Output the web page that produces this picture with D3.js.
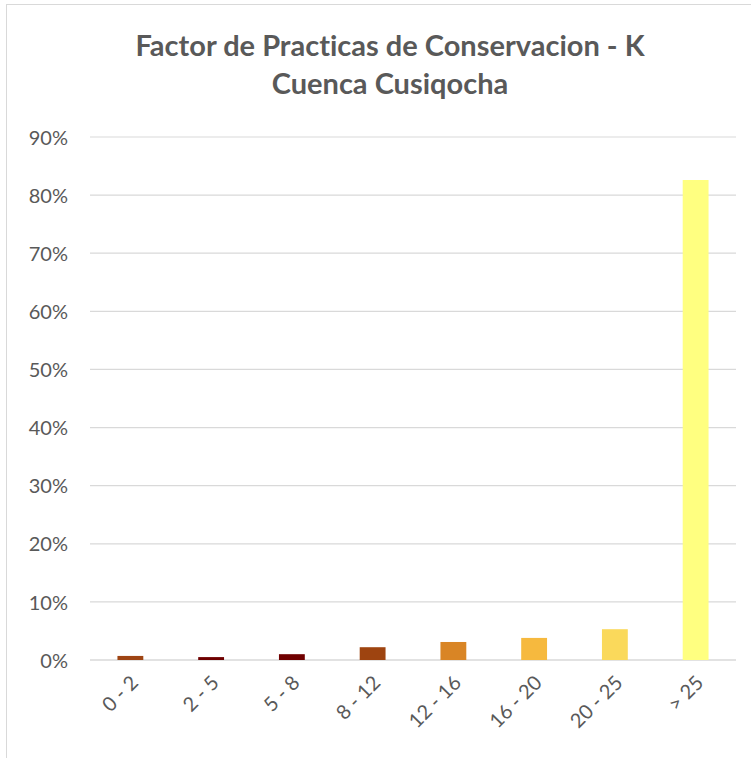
<!DOCTYPE html>
<html><head><meta charset="utf-8">
<script src="https://cdn.jsdelivr.net/npm/d3@7"></script>
<style>body{margin:0;background:#fff;} svg{display:block;} text{font-variant-ligatures:none;font-feature-settings:"liga" 0;}</style>
</head><body>
<script>
const categories = ["0 - 2","2 - 5","5 - 8","8 - 12","12 - 16","16 - 20","20 - 25","> 25"];
const values = [0.007, 0.005, 0.010, 0.022, 0.031, 0.038, 0.053, 0.826];
const colors = ["#9E4413","#6E0000","#700000","#9E4410","#D98525","#F6B93E","#FAD95B","#FFFF80"];
const yTicks = [0,0.1,0.2,0.3,0.4,0.5,0.6,0.7,0.8,0.9];
const titleLines = ["Factor de Practicas de Conservacion - K","Cuenca Cusiqocha"];

const W=751,H=758;
const svg=d3.select("body").append("svg").attr("width",W).attr("height",H);
svg.append("rect").attr("x",6.5).attr("y",4.5).attr("width",W).attr("height",H).attr("fill","#fff").attr("stroke","#D9D9D9").attr("stroke-width",1);

const font="Lato, 'Open Sans', sans-serif";
const x=d3.scaleBand().domain(categories).range([90,736]).paddingInner(0.68).paddingOuter(0.34);
const y=d3.scaleLinear().domain([0,0.9]).range([660,137]);

svg.append("g").selectAll("line").data(yTicks).join("line")
  .attr("x1",90).attr("x2",736).attr("y1",d=>y(d)).attr("y2",d=>y(d))
  .attr("stroke","#D9D9D9").attr("stroke-width",d=>d===0?1.5:1.2);

const yAxis=d3.axisLeft(y).tickValues(yTicks).tickFormat(d3.format(".0%")).tickSize(0).tickPadding(0);
const ga=svg.append("g").attr("transform","translate(68,0)").call(yAxis);
ga.select(".domain").remove();
ga.selectAll("text").attr("font-family",font).attr("font-size",20).attr("fill","#595959").attr("dy","0.36em");

svg.append("g").selectAll("rect").data(categories).join("rect")
  .attr("x",d=>x(d)).attr("width",x.bandwidth())
  .attr("y",(d,i)=>y(values[i])).attr("height",(d,i)=>y(0)-y(values[i]))
  .attr("fill",(d,i)=>colors[i]);

const xAxis=d3.axisBottom(x).tickSize(0).tickPadding(0);
const gx=svg.append("g").attr("transform","translate(0,660)").call(xAxis);
gx.select(".domain").remove();
gx.selectAll("text").attr("font-family",font).attr("font-size",20).attr("fill","#595959")
  .attr("text-anchor","end").attr("dy",0).attr("y",0)
  .attr("transform","translate(9,24) rotate(-45)");

svg.append("g").selectAll("text").data(titleLines).join("text")
  .attr("x",390).attr("y",(d,i)=>56+i*38).attr("text-anchor","middle")
  .attr("font-family",font).attr("font-weight","bold").attr("font-size",29).attr("fill","#595959")
  .text(d=>d);
</script>
</body></html>
